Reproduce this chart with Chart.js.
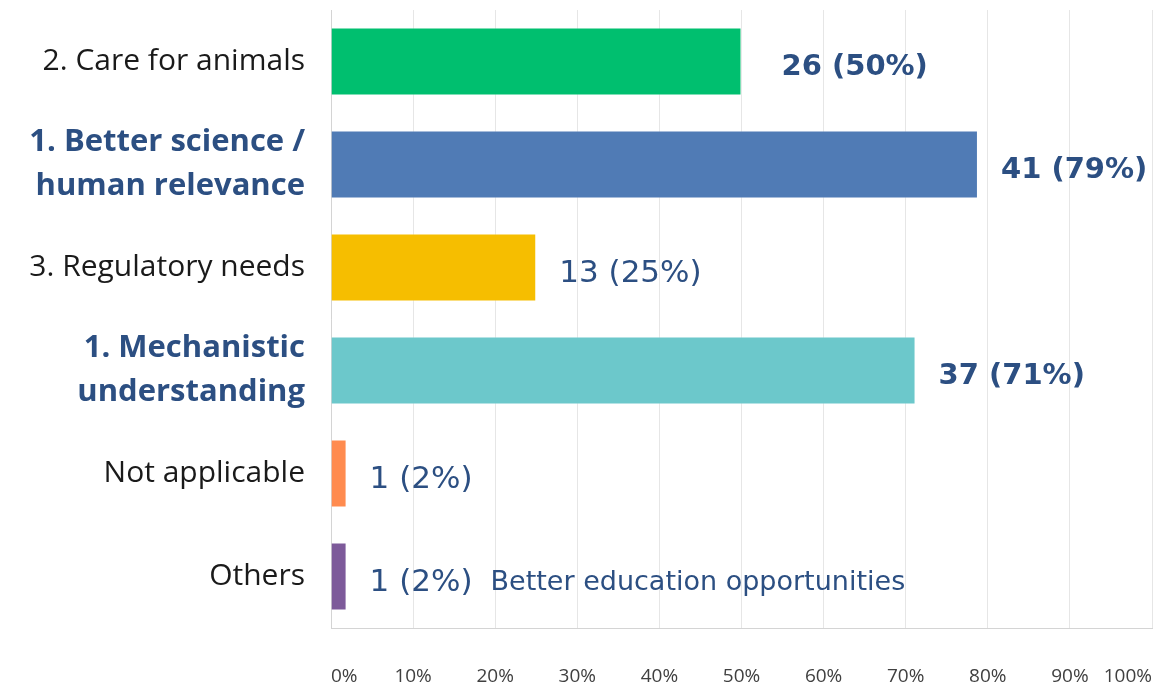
<!DOCTYPE html>
<html lang="en">
<head>
    <meta charset="UTF-8">
    <title>Motivations</title>
    <script src="https://cdn.jsdelivr.net/npm/chart.js"></script>
    <style>
        body {
            margin: 0;
            background: #ffffff;
        }
        .wrap {
            width: 1160px;
            height: 684px;
        }
    </style>
</head>
<body>
    <div class="wrap">
        <canvas id="reasonChart" width="1160" height="684"></canvas>
    </div>

    <script>
        // answers, top to bottom
        const categories = [
            "2. Care for animals",
            ["1. Better science /", "human relevance"],
            "3. Regulatory needs",
            ["1. Mechanistic", "understanding"],
            "Not applicable",
            "Others"
        ];
        const counts = [26, 41, 13, 37, 1, 1];
        const percentLabels = [50, 79, 25, 71, 2, 2];
        const shares = [50, 78.8, 25, 71.2, 1.9, 1.9];   // bar length in %
        const topRanked = [false, true, false, true, false, false];
        const boldValues = [true, true, false, true, false, false];
        const notes = ["", "", "", "", "", "Better education opportunities"];
        const xTicks = [0, 10, 20, 30, 40, 50, 60, 70, 80, 90, 100];

        const barColors = ["#00bf6f", "#507bb5", "#f6be00", "#6cc8cb", "#ff8b4f", "#7d5a9a"];
        const navy = "#2c4f82";

        // count (percent) text next to each bar
        const valueLabels = {
            id: "valueLabels",
            afterDatasetsDraw(chart) {
                const ctx = chart.ctx;
                const meta = chart.getDatasetMeta(0);
                ctx.save();
                ctx.textBaseline = "middle";
                ctx.textAlign = "left";
                meta.data.forEach((bar, i) => {
                    ctx.font = boldValues[i] ? "bold 29px 'DejaVu Sans'" : "31px 'DejaVu Sans'";
                    ctx.fillStyle = navy;
                    const txt = counts[i] + " (" + percentLabels[i] + "%)";
                    const x = bar.x + (i === 0 ? 40 : 23);
                    const y = bar.y + 6;
                    ctx.fillText(txt, x, y);
                    if (notes[i]) {
                        const w = ctx.measureText(txt).width;
                        ctx.font = "27px 'DejaVu Sans'";
                        ctx.fillText(notes[i], x + w + 18, y);
                    }
                });
                ctx.restore();
            }
        };

        function noPadding(scale) {
            scale.paddingTop = 0;
            scale.paddingBottom = 0;
            scale.paddingLeft = 0;
            scale.paddingRight = 0;
        }

        new Chart(document.getElementById("reasonChart"), {
            type: "bar",
            data: {
                labels: categories,
                datasets: [{
                    data: shares,
                    backgroundColor: barColors,
                    borderColor: "rgba(255,255,255,0.35)",
                    borderWidth: 1,
                    categoryPercentage: 1,
                    barPercentage: 0.66
                }]
            },
            options: {
                indexAxis: "y",
                responsive: false,
                animation: false,
                layout: {
                    padding: { top: 10, right: 8, bottom: 0, left: 0 }
                },
                plugins: {
                    legend: { display: false },
                    tooltip: { enabled: false }
                },
                scales: {
                    x: {
                        min: 0,
                        max: 100,
                        afterBuildTicks(scale) {
                            scale.ticks = xTicks.map(v => ({ value: v }));
                        },
                        afterFit(scale) {
                            scale.height = 56;
                            noPadding(scale);
                        },
                        grid: {
                            color: "#e6e6e6",
                            drawTicks: false
                        },
                        border: { color: "#d4d4d4" },
                        ticks: {
                            align: "inner",
                            padding: 37,
                            color: "#404040",
                            font: { family: "'Open Sans'", size: 19 },
                            callback: v => v + "%"
                        }
                    },
                    y: {
                        afterFit(scale) {
                            scale.width = 331;
                            noPadding(scale);
                        },
                        grid: { display: false, drawTicks: false },
                        border: { color: "#d4d4d4" },
                        ticks: {
                            padding: 26,
                            color: ctx => topRanked[ctx.index] ? navy : "#1a1a1a",
                            font: ctx => ({
                                family: "'Open Sans'",
                                size: topRanked[ctx.index] ? 31 : 30,
                                weight: topRanked[ctx.index] ? "bold" : "normal",
                                lineHeight: 1.42
                            })
                        }
                    }
                }
            },
            plugins: [valueLabels]
        });
    </script>
</body>
</html>
